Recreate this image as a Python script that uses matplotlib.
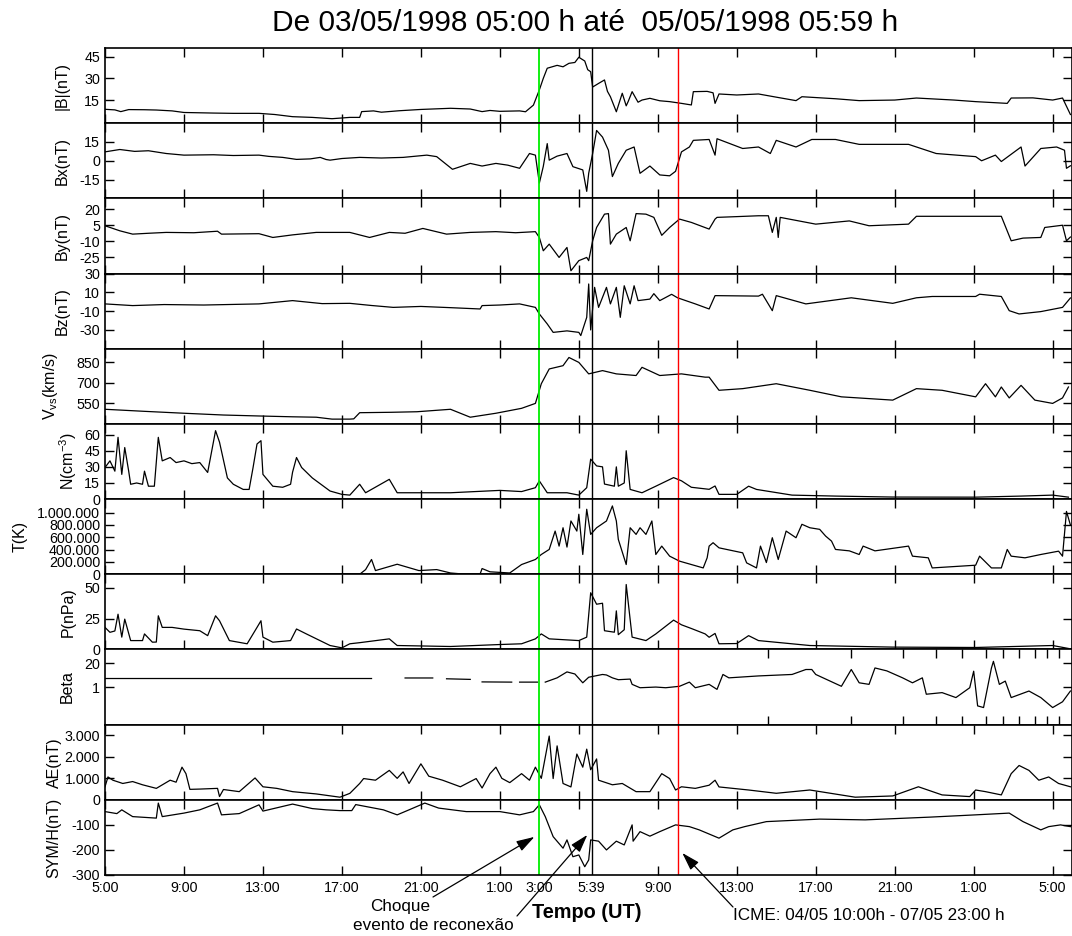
import numpy as np
import matplotlib
matplotlib.use("Agg")
import matplotlib.pyplot as plt

plt.rcParams['font.family'] = ['Liberation Sans', 'DejaVu Sans']
plt.rcParams['mathtext.fontset'] = 'custom'
plt.rcParams['mathtext.rm'] = 'Liberation Sans'
plt.rcParams['mathtext.it'] = 'Liberation Sans:italic'

# tempo em horas desde 03/05/1998 05:00 UT
t_shock = 22.0     # 04/05 03:00
t_recon = 24.65    # 04/05 05:39
t_icme = 29.0      # 04/05 10:00

# |B| (nT)
bmag = [(0.0, 8.6), (0.5, 8.2), (0.8, 7.0), (1.2, 8.4), (2.0, 8.3), (2.6, 8.1), (3.4, 7.5), (4.0, 6.4),
        (5.5, 6.0), (6.5, 5.8), (7.8, 5.8), (8.6, 5.0), (9.5, 3.5), (10.5, 3.0), (11.5, 2.1), (12.4, 3.0),
        (12.9, 3.0), (13.0, 7.0), (13.6, 7.5), (14.0, 6.6), (14.9, 7.6), (16.0, 8.5), (17.5, 9.3), (18.5, 8.8),
        (19.1, 7.0), (19.5, 7.8), (20.0, 7.2), (21.0, 7.5), (21.3, 6.9), (21.7, 11.5), (22.0, 22.0), (22.2, 30.0),
        (22.4, 37.0), (22.9, 39.0), (23.2, 38.0), (23.5, 40.4), (23.8, 41.0), (24.0, 44.6), (24.3, 42.0),
        (24.45, 36.0), (24.6, 34.6), (24.7, 24.0), (25.0, 26.5), (25.3, 28.9), (25.45, 21.0), (25.6, 17.3),
        (25.9, 6.9), (26.2, 19.7), (26.4, 11.0), (26.5, 14.0), (26.7, 20.8), (27.0, 13.5), (27.2, 15.0),
        (27.6, 16.2), (28.1, 14.5), (28.6, 13.9), (29.2, 12.7), (29.7, 11.6), (29.8, 20.8), (30.5, 21.0),
        (30.8, 20.0), (30.9, 12.7), (31.1, 19.2), (32.0, 18.5), (33.1, 19.2), (34.0, 17.0), (35.0, 14.6),
        (35.3, 17.3), (37.0, 15.9), (38.2, 14.6), (40.0, 15.0), (41.1, 16.4), (43.0, 15.0), (44.1, 13.9),
        (45.7, 12.7), (45.9, 16.4), (47.0, 16.5), (48.0, 15.0), (48.5, 16.4), (48.9, 5.0)]

# Bx (nT)
bx = [(0.0, 7.1), (0.75, 9.0), (1.5, 7.5), (2.2, 8.0), (3.1, 5.8), (4.0, 4.5), (5.5, 4.8), (6.5, 4.2),
      (7.8, 4.5), (8.3, 3.5), (9.0, 2.7), (9.7, 1.1), (10.4, 1.5), (10.9, 2.7), (11.2, 1.0), (11.4, 0.5),
      (12.0, 1.8), (12.9, 2.7), (14.0, 2.2), (15.1, 2.7), (16.3, 4.5), (16.8, 3.3), (17.6, -6.8), (18.5, -2.1),
      (19.1, -4.2), (19.8, -2.1), (20.4, -3.5), (21.0, -6.0), (21.5, 5.8), (21.8, 4.5), (22.0, -17.8),
      (22.2, -4.5), (22.4, 13.7), (22.5, 0.5), (22.9, 3.7), (23.4, 5.8), (23.7, -4.7), (24.2, -7.3),
      (24.4, -24.4), (24.5, -10.0), (24.7, 5.8), (24.9, 24.2), (25.2, 18.9), (25.5, 8.4), (25.7, -12.6),
      (26.0, -2.1), (26.4, 8.4), (26.8, 11.0), (27.1, -10.0), (27.6, -4.2), (28.1, -11.3), (28.6, -12.0),
      (28.9, -8.4), (29.2, 7.1), (29.6, 11.0), (29.8, 16.3), (30.6, 17.0), (30.9, 4.5), (31.0, 17.6),
      (32.3, 9.8), (33.1, 11.0), (33.7, 5.8), (34.0, 16.3), (35.0, 11.0), (35.8, 17.0), (37.0, 17.0),
      (38.2, 13.1), (40.7, 13.1), (42.1, 5.8), (44.1, 3.3), (44.4, 0.0), (45.1, 4.5), (45.4, -0.6),
      (46.4, 11.0), (46.6, -4.2), (47.4, 9.8), (48.2, 11.0), (48.6, 8.4), (48.7, -6.0), (48.9, -4.0)]

# By (nT)
by = [(0.0, 4.5), (0.75, -0.2), (1.4, -3.3), (2.2, -2.5), (3.1, -1.7), (4.5, -2.0), (5.7, -0.6), (5.9, -3.3),
      (7.8, -2.9), (8.5, -6.4), (9.5, -4.0), (10.7, -1.7), (12.4, -1.7), (13.4, -6.4), (14.4, -1.7),
      (15.2, -2.5), (16.1, 2.0), (17.3, -3.3), (18.5, -1.7), (19.8, -1.0), (20.8, -2.0), (21.8, -1.0),
      (22.0, -6.4), (22.2, -18.8), (22.5, -12.6), (23.0, -25.0), (23.4, -15.7), (23.6, -37.4), (24.0, -28.0),
      (24.4, -25.0), (24.5, -28.0), (24.7, -9.5), (24.9, 2.9), (25.3, 15.3), (25.5, 15.8), (25.6, -12.6),
      (25.9, -3.3), (26.4, 2.9), (26.6, -9.5), (26.9, 15.8), (27.4, 15.3), (27.8, 12.3), (28.2, -4.4),
      (28.6, 2.9), (29.1, 10.7), (29.7, 7.6), (30.6, 1.4), (30.9, 10.7), (31.0, 12.3), (32.0, 13.0),
      (33.1, 13.8), (33.6, 13.8), (33.8, -1.7), (34.0, 12.3), (34.1, -6.4), (34.2, 12.3), (36.0, 6.0),
      (37.7, 9.0), (38.7, 4.5), (40.7, 6.0), (41.1, 13.3), (45.4, 13.3), (45.9, -9.5), (46.5, -7.0),
      (47.4, -6.4), (47.6, 2.9), (48.5, 5.0), (48.7, -9.5), (48.9, -6.0)]

# Bz (nT)
bz = [(0.0, -2.3), (1.4, -4.1), (3.0, -3.0), (5.0, -3.5), (7.8, -2.3), (9.5, 1.2), (11.0, -2.0), (12.4, -1.7),
      (13.5, -4.0), (14.6, -6.0), (16.0, -5.0), (17.5, -6.3), (19.0, -7.7), (19.1, -4.1), (20.0, -3.5),
      (21.0, -2.3), (21.8, -6.0), (22.0, -13.0), (22.4, -23.6), (22.7, -32.6), (23.4, -31.0), (24.0, -32.6),
      (24.1, -36.0), (24.4, -16.6), (24.5, 18.9), (24.6, -30.0), (24.8, 15.3), (25.0, -6.0), (25.4, 15.3),
      (25.6, -2.3), (25.9, 15.3), (26.1, -16.6), (26.3, 17.0), (26.6, -2.3), (26.8, 17.0), (27.0, 1.2),
      (27.6, 2.8), (27.8, 8.6), (28.1, 1.2), (28.7, 7.9), (29.0, 4.2), (29.9, -2.3), (30.6, -7.7),
      (30.9, 6.5), (33.1, 6.0), (33.3, 8.0), (33.8, -9.5), (34.0, 6.5), (35.5, -2.3), (37.8, 4.2),
      (39.9, -1.7), (41.1, 4.2), (41.9, 5.6), (44.1, 5.6), (44.3, 8.0), (45.4, 5.6), (45.8, -9.5),
      (46.3, -13.0), (47.4, -10.5), (48.5, -6.0), (48.9, 4.0)]

# velocidade do vento solar (km/s)
vsw = [(0.0, 507), (2.0, 492), (4.0, 478), (6.0, 465), (7.8, 458), (9.5, 452), (10.7, 449), (11.5, 435),
       (12.4, 435), (12.6, 437), (12.9, 482), (14.5, 485), (15.8, 489), (17.5, 507), (18.5, 449), (19.8, 478),
       (21.1, 514), (21.8, 550), (22.1, 694), (22.5, 802), (23.2, 826), (23.5, 886), (24.0, 850), (24.5, 766),
       (25.2, 790), (25.9, 766), (26.9, 754), (27.2, 814), (28.1, 754), (29.2, 766), (30.4, 742), (30.6, 742),
       (31.1, 646), (32.3, 658), (34.0, 694), (35.7, 646), (37.3, 598), (39.9, 574), (41.1, 658), (42.4, 646),
       (44.1, 598), (44.6, 694), (45.1, 598), (45.4, 670), (45.8, 590), (46.4, 682), (47.1, 574), (48.0, 550),
       (48.5, 590), (48.8, 670)]

# densidade (cm^-3)
dens = [(0.0, 29.4), (0.25, 35.6), (0.5, 26.0), (0.66, 57.5), (0.85, 23.0), (1.0, 48.0), (1.2, 26.0),
        (1.3, 13.8), (1.6, 15.0), (1.9, 13.8), (2.0, 26.0), (2.2, 12.0), (2.5, 12.0), (2.7, 57.5), (2.9, 35.6),
        (3.3, 38.7), (3.6, 34.0), (4.0, 35.6), (4.4, 33.0), (4.8, 34.0), (5.2, 24.8), (5.6, 63.7), (5.8, 53.0),
        (6.2, 19.7), (6.5, 13.8), (7.0, 9.0), (7.3, 9.0), (7.5, 29.4), (7.7, 51.3), (7.9, 54.4), (8.0, 23.0),
        (8.5, 12.0), (9.0, 11.0), (9.4, 13.8), (9.5, 25.0), (9.7, 38.7), (9.96, 29.4), (10.5, 19.7),
        (11.4, 7.5), (12.0, 4.4), (12.4, 3.7), (12.9, 13.8), (13.2, 5.9), (14.4, 18.4), (14.8, 5.9),
        (17.5, 5.9), (20.0, 8.1), (21.1, 7.0), (21.8, 10.6), (22.0, 16.9), (22.4, 5.9), (23.4, 5.9),
        (24.0, 3.7), (24.4, 10.6), (24.6, 37.2), (24.9, 30.9), (25.2, 30.0), (25.3, 14.0), (25.8, 12.0),
        (25.9, 30.0), (26.0, 12.0), (26.3, 15.0), (26.4, 45.0), (26.6, 9.0), (27.2, 5.9), (27.9, 12.0),
        (28.8, 20.0), (29.2, 17.0), (29.7, 11.0), (30.6, 9.1), (30.9, 12.2), (31.1, 4.4), (32.0, 4.4),
        (32.6, 12.0), (33.0, 9.0), (34.8, 3.7), (37.0, 2.8), (39.9, 1.9), (44.1, 1.8), (46.4, 2.8),
        (48.0, 3.7), (48.8, 1.8)]

# temperatura (K)
temp = [(0.0, 0), (12.9, 0), (13.2, 76000), (13.5, 240000), (13.7, 60000), (14.8, 163000), (15.9, 60000),
        (16.8, 76000), (17.5, 21000), (18.1, 5000), (19.0, 5000), (19.1, 93000), (19.5, 40000), (20.5, 21000),
        (21.1, 158000), (21.8, 240000), (22.1, 321000), (22.5, 403000), (22.8, 701000), (23.0, 457000),
        (23.2, 755000), (23.4, 441000), (23.6, 865000), (23.9, 701000), (24.0, 974000), (24.2, 321000),
        (24.4, 1055000), (24.6, 647000), (24.9, 755000), (25.4, 865000), (25.7, 1109000), (25.9, 865000),
        (26.0, 566000), (26.4, 158000), (26.6, 755000), (26.9, 647000), (27.1, 755000), (27.4, 647000),
        (27.7, 865000), (27.9, 321000), (28.2, 457000), (28.6, 294000), (29.1, 213000), (29.7, 158000),
        (30.3, 103000), (30.5, 267000), (30.6, 457000), (30.8, 512000), (31.1, 429000), (32.3, 348000),
        (32.5, 185000), (33.0, 103000), (33.2, 457000), (33.5, 190000), (33.8, 593000), (34.1, 240000),
        (34.5, 701000), (35.0, 593000), (35.3, 811000), (35.7, 755000), (36.2, 729000), (36.5, 620000),
        (36.8, 538000), (37.0, 403000), (37.7, 380000), (38.2, 321000), (38.4, 457000), (39.0, 380000),
        (40.7, 457000), (40.9, 294000), (41.7, 267000), (41.9, 103000), (44.1, 147000), (44.3, 294000),
        (44.9, 103000), (45.4, 103000), (45.7, 403000), (45.9, 294000), (46.6, 267000), (47.4, 321000),
        (48.3, 375000), (48.5, 294000), (48.7, 1020000), (48.9, 800000)]

# pressao dinamica (nPa)
pres = [(0.0, 17.9), (0.25, 13.9), (0.5, 15.0), (0.66, 28.6), (0.85, 10.0), (1.0, 24.6), (1.3, 7.2),
        (1.9, 7.2), (2.0, 12.6), (2.4, 5.9), (2.6, 6.0), (2.7, 27.3), (2.9, 17.9), (3.4, 17.9), (4.0, 16.5),
        (4.8, 15.2), (5.2, 11.2), (5.6, 27.3), (5.8, 23.3), (6.3, 7.2), (7.2, 4.6), (7.7, 17.9), (7.9, 23.3),
        (8.0, 10.0), (8.5, 5.9), (9.4, 7.2), (9.7, 16.6), (10.2, 12.6), (11.4, 3.2), (12.0, 1.3), (12.4, 4.6),
        (12.9, 5.5), (14.4, 8.6), (14.8, 3.2), (17.5, 2.4), (20.0, 4.0), (21.1, 4.6), (21.8, 8.6), (22.1, 12.6),
        (22.5, 8.6), (24.0, 7.2), (24.4, 10.0), (24.6, 46.0), (24.9, 36.7), (25.2, 37.5), (25.3, 15.2),
        (25.8, 14.0), (25.9, 31.3), (26.0, 12.0), (26.3, 16.0), (26.4, 52.7), (26.7, 10.0), (27.4, 7.2),
        (27.9, 12.6), (28.8, 23.8), (29.2, 20.0), (29.7, 17.0), (30.4, 12.6), (30.6, 9.9), (30.9, 13.0),
        (31.1, 4.6), (32.0, 4.8), (32.6, 11.2), (33.1, 7.2), (35.7, 3.2), (39.9, 1.9), (44.1, 1.6),
        (48.0, 3.2), (48.8, 0.8)]

# beta do plasma (None = falha nos dados)
beta = [(0.0, 2.9), (13.5, 2.9), (13.5, None), (15.2, 3.1), (16.6, 3.1), (16.6, None), (17.3, 2.8),
        (18.5, 2.6), (18.5, None), (19.1, 1.9), (20.6, 1.85), (20.6, None), (21.0, 1.85), (21.9, 1.85),
        (21.9, None), (22.3, 1.85), (22.9, 3.15), (23.4, 6.6), (23.8, 5.1), (24.2, 1.7), (24.5, 3.4),
        (25.2, 4.8), (25.4, 4.5), (25.7, 3.15), (26.0, 2.5), (26.6, 2.7), (26.7, 1.4), (27.1, 0.92),
        (27.9, 1.0), (28.4, 0.92), (29.1, 1.1), (29.6, 1.85), (29.9, 0.92), (30.6, 1.4), (31.0, 0.75),
        (31.3, 4.8), (31.6, 3.15), (33.1, 4.0), (34.8, 4.8), (35.5, 8.9), (35.8, 8.9), (36.0, 4.8),
        (37.3, 1.1), (37.8, 8.9), (38.2, 1.7), (38.7, 1.4), (39.0, 10.8), (39.6, 7.5), (40.4, 3.15),
        (40.9, 1.7), (41.4, 3.15), (41.6, 0.41), (42.4, 0.5), (43.1, 0.27), (43.8, 0.92), (44.0, 7.2),
        (44.2, 0.096), (44.5, 0.078), (44.7, 0.92), (44.9, 10.8), (45.0, 24.6), (45.3, 1.4), (45.6, 2.1),
        (45.9, 0.27), (46.8, 0.61), (47.4, 0.27), (48.0, 0.078), (48.5, 0.16), (48.9, 0.61)]

# indice AE (nT)
ae = [(0.0, 607), (0.15, 1064), (0.4, 913), (0.9, 761), (1.4, 850), (1.9, 700), (2.6, 533), (3.3, 913),
      (3.6, 820), (3.9, 1520), (4.1, 1218), (4.3, 487), (4.8, 500), (5.7, 533), (5.8, 152), (6.0, 480),
      (6.8, 380), (7.6, 1018), (8.0, 607), (8.7, 533), (9.5, 380), (10.7, 274), (11.9, 122), (12.4, 300),
      (12.9, 761), (13.1, 990), (13.7, 913), (14.4, 1370), (14.8, 1000), (15.1, 1300), (15.4, 761),
      (16.0, 1675), (16.4, 1100), (17.1, 913), (18.0, 607), (18.8, 990), (19.1, 550), (19.5, 1218),
      (19.8, 1520), (20.1, 1000), (20.5, 800), (21.1, 1218), (21.5, 913), (21.8, 1520), (22.1, 1000),
      (22.5, 2968), (22.7, 990), (22.9, 2511), (23.2, 761), (23.6, 600), (23.9, 2131), (24.2, 1520),
      (24.4, 2359), (24.6, 1400), (24.9, 1903), (25.0, 913), (25.7, 700), (26.2, 761), (26.9, 380),
      (27.6, 380), (28.2, 1218), (28.6, 990), (28.9, 457), (29.2, 607), (29.9, 533), (30.6, 680),
      (30.9, 913), (31.1, 600), (32.6, 457), (34.0, 304), (35.7, 457), (38.0, 122), (39.9, 180),
      (41.2, 607), (42.4, 228), (43.8, 150), (44.1, 457), (44.6, 380), (45.4, 228), (45.9, 1218),
      (46.3, 1598), (46.8, 1370), (47.3, 913), (47.8, 1064), (48.3, 761), (48.9, 607)]

# indice SYM-H (nT)
symh = [(0.0, -47), (0.6, -55), (0.85, -40), (1.4, -67), (2.6, -73), (2.7, -13), (2.9, -67), (4.0, -53),
        (4.8, -40), (5.7, -13), (5.9, -60), (6.8, -55), (7.8, -20), (8.0, -45), (9.5, -17), (10.5, -35),
        (11.2, -40), (11.9, -43), (12.5, -43), (12.7, -19), (14.1, -40), (14.8, -60), (15.4, -40),
        (16.2, -13), (16.9, -33), (18.3, -47), (20.0, -47), (21.0, -60), (21.7, -47), (22.0, -20),
        (22.3, -67), (22.7, -147), (23.2, -193), (23.4, -160), (23.7, -227), (24.0, -220), (24.3, -267),
        (24.5, -240), (24.6, -160), (25.0, -165), (25.4, -200), (25.9, -165), (26.3, -180), (26.7, -100),
        (26.75, -165), (27.1, -127), (27.6, -145), (28.1, -127), (28.9, -100), (29.6, -107), (30.1, -120),
        (31.1, -153), (31.8, -120), (32.4, -107), (33.5, -87), (36.2, -77), (38.5, -80), (41.8, -69),
        (44.1, -60), (45.8, -53), (46.5, -87), (47.4, -120), (47.8, -107), (48.4, -100), (48.9, -107)]

ylabels = ['|B|(nT)', 'Bx(nT)', 'By(nT)', 'Bz(nT)', r'V$_{\mathrm{vs}}$(km/s)', r'N(cm$^{-3}$)',
           'T(K)', 'P(nPa)', 'Beta', 'AE(nT)', 'SYM/H(nT)']
series = [bmag, bx, by, bz, vsw, dens, temp, pres, beta, ae, symh]
ylims = [(-1, 51), (-30, 30), (-40, 30), (-50, 30), (400, 950), (0, 70), (0, 1.22e6), (0, 61),
         (0.0093, 108), (0, 3500), (-300, 0)]
yticks = [[15, 30, 45], [-15, 0, 15], [-25, -10, 5, 20], [-30, -10, 10, 30], [550, 700, 850],
          [0, 15, 30, 45, 60], [0, 2e5, 4e5, 6e5, 8e5, 1e6], [0, 25, 50], [1, 20],
          [0, 1000, 2000, 3000], [-300, -200, -100]]
yticklabels = [None, None, None, None, None, None,
               ['0', '200.000', '400.000', '600.000', '800.000', '1.000.000'], None, None,
               ['0', '1.000', '2.000', '3.000'], None]

xtick_hours = [0, 4, 8, 12, 16, 20, 22, 24.65, 28, 32, 36, 40, 44, 48]
xtick_labels = ['5:00', '9:00', '13:00', '17:00', '21:00', '1:00', '3:00', '5:39',
                '9:00', '13:00', '17:00', '21:00', '1:00', '5:00']
beta_xticks = [33.6, 37.8, 40.4, 42.1, 43.4, 44.6, 45.5, 46.3, 47.1, 47.7, 48.3]

W, H = 1072, 936
fig = plt.figure(figsize=(W / 100, H / 100), dpi=100)
x0, top, bot = 105, 48, 875
ph = (bot - top) / len(series)
label_x = [62, 62, 62, 62, 50, 68, 20, 68, 67, 54, 54]

axes = []
for i, data in enumerate(series):
    y_top = top + i * ph
    ax = fig.add_axes([x0 / W, 1 - (y_top + ph) / H, 1 - x0 / W, ph / H])
    arr = np.array(data, dtype=float)
    ax.plot(arr[:, 0], arr[:, 1], color='black', lw=0.9)
    if ylabels[i] == 'Beta':
        ax.set_yscale('log')
        ax.yaxis.set_minor_locator(matplotlib.ticker.NullLocator())
        ax.set_xticks(beta_xticks)
    else:
        ax.set_xticks(range(0, 49, 4))
    ax.set_xlim(0, 48.98)
    ax.set_ylim(*ylims[i])
    ax.set_yticks(yticks[i])
    if yticklabels[i] is not None:
        ax.set_yticklabels(yticklabels[i])
    else:
        ax.set_yticklabels([('%g' % v) for v in yticks[i]])
    ax.tick_params(axis='both', which='major', direction='in', length=6.5, width=1.0,
                   top=True, right=True, labelsize=10.3, pad=3.5, labelbottom=False)
    for s in ax.spines.values():
        s.set_linewidth(1.2)
    ax.axvline(t_shock, color='#00EE00', lw=1.3)
    ax.axvline(t_recon, color='black', lw=1.0)
    ax.axvline(t_icme, color='#FF0000', lw=1.0)
    fig.text(label_x[i] / W, 1 - (y_top + ph / 2) / H, ylabels[i], rotation=90,
             ha='center', va='center', fontsize=11.5)
    axes.append(ax)

# rotulos do eixo de tempo (sem marca propria, apenas texto)
ax = axes[-1]
ax.xaxis.remove_overlapping_locs = False
ax.set_xticks(xtick_hours, xtick_labels, minor=True)
ax.tick_params(axis='x', which='minor', length=0, labelsize=10.3, pad=4, labelbottom=True)

fig.text(585 / W, 1 - 23 / H, 'De 03/05/1998 05:00 h até  05/05/1998 05:59 h',
         ha='center', va='center', fontsize=21.5)
fig.text(400 / W, 1 - 907 / H, 'Choque', ha='center', va='center', fontsize=12.3)
fig.text(433 / W, 1 - 925 / H, 'evento de reconexão', ha='center', va='center', fontsize=12.3)
fig.text(587 / W, 1 - 912 / H, 'Tempo (UT)', ha='center', va='center', fontsize=14.3, fontweight='bold')
fig.text(733 / W, 1 - 915 / H, 'ICME: 04/05 10:00h - 07/05 23:00 h', ha='left', va='center', fontsize=12.3)

arrow = dict(arrowstyle='-|>,head_length=0.55,head_width=0.17', color='black', lw=0.9,
             mutation_scale=20, shrinkA=0, shrinkB=0)
ax.annotate('', xy=(21.75, -148), xytext=(433, H - 897), textcoords='figure pixels',
            arrowprops=arrow, annotation_clip=False)
ax.annotate('', xy=(24.43, -140), xytext=(517, H - 916), textcoords='figure pixels',
            arrowprops=arrow, annotation_clip=False)
ax.annotate('', xy=(29.24, -212), xytext=(733, H - 907), textcoords='figure pixels',
            arrowprops=arrow, annotation_clip=False)

fig.savefig('out.png', dpi=100)
